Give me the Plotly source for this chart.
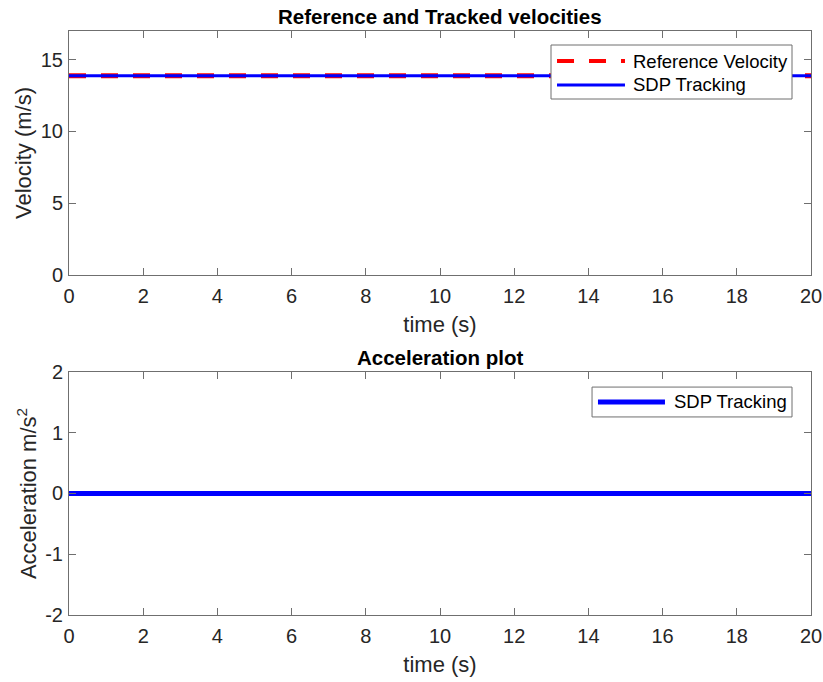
import plotly.graph_objects as go
from plotly.subplots import make_subplots

# Simulation results: constant-speed tracking over a 20 s window
time_s = [0, 20]
ref_velocity = [13.89, 13.89]
sdp_velocity = [13.89, 13.89]
sdp_accel = [0.0, 0.0]

x_ticks = [0, 2, 4, 6, 8, 10, 12, 14, 16, 18, 20]
vel_ticks = [0, 5, 10, 15]
acc_ticks = [-2, -1, 0, 1, 2]
acc_tick_labels = ["-2", "-1", "0", "1", "2"]

FONT = "Liberation Sans, Arial, Helvetica, sans-serif"
AXIS_GRAY = "#6f6f6f"
TEXT = "#262626"

fig = make_subplots(rows=2, cols=1, vertical_spacing=0.0)

fig.add_trace(go.Scatter(x=time_s, y=ref_velocity, mode="lines", name="Reference Velocity",
                         line=dict(color="#ff0000", width=5, dash="17px,15px"),
                         showlegend=False), row=1, col=1)
fig.add_trace(go.Scatter(x=time_s, y=sdp_velocity, mode="lines", name="SDP Tracking",
                         line=dict(color="#0000ff", width=3), showlegend=False), row=1, col=1)
fig.add_trace(go.Scatter(x=time_s, y=sdp_accel, mode="lines", name="SDP Tracking",
                         line=dict(color="#0000ff", width=5), showlegend=False), row=2, col=1)

axis_common = dict(showgrid=False, zeroline=False, showline=True, linecolor=AXIS_GRAY,
                   linewidth=1, mirror="ticks", ticks="inside", ticklen=7, tickcolor=AXIS_GRAY,
                   automargin=False,
                   tickfont=dict(family=FONT, size=20, color=TEXT))

fig.update_xaxes(**axis_common, range=[0, 20], tickvals=x_ticks, ticklabelstandoff=3,
                 title=dict(text="time (s)", font=dict(family=FONT, size=22, color=TEXT), standoff=10))
fig.update_yaxes(**axis_common, ticklabelstandoff=1)
fig.update_yaxes(range=[0, 17], tickvals=vel_ticks, domain=[0.5822, 1.0],
                 title=dict(text="Velocity (m/s)", font=dict(family=FONT, size=22, color=TEXT), standoff=3),
                 row=1, col=1)
fig.update_yaxes(range=[-2, 2], tickvals=acc_ticks, ticktext=acc_tick_labels, domain=[0.0, 0.4161],
                 title=dict(text="Acceleration m/s<sup>2</sup>", font=dict(family=FONT, size=22, color=TEXT), standoff=2),
                 row=2, col=1)

# Subplot titles
fig.add_annotation(text="<b>Reference and Tracked velocities</b>", xref="x domain", yref="y domain",
                   x=0.5, y=1.0, yshift=1, yanchor="bottom", showarrow=False,
                   font=dict(family=FONT, size=20.5, color="black"))
fig.add_annotation(text="<b>Acceleration plot</b>", xref="x2 domain", yref="y2 domain",
                   x=0.5, y=1.0, yshift=1, yanchor="bottom", showarrow=False,
                   font=dict(family=FONT, size=20.5, color="black"))

# Legend boxes drawn in axis-domain coordinates
legend_font = dict(family=FONT, size=18.5, color="black")
# top legend
fig.add_shape(type="rect", xref="x domain", yref="y domain", x0=0.6496, x1=0.9744, y0=0.7213, y1=0.9426,
              line=dict(color=AXIS_GRAY, width=1), fillcolor="white", layer="above")
fig.add_shape(type="line", xref="x domain", yref="y domain", x0=0.6577, x1=0.7493, y0=0.877, y1=0.877,
              line=dict(color="#ff0000", width=4, dash="17px,15px"), layer="above")
fig.add_shape(type="line", xref="x domain", yref="y domain", x0=0.6577, x1=0.7493, y0=0.779, y1=0.779,
              line=dict(color="#0000ff", width=3), layer="above")
fig.add_annotation(text="Reference Velocity", xref="x domain", yref="y domain", x=0.7574, y=0.877,
                   xanchor="left", yanchor="middle", showarrow=False, font=legend_font)
fig.add_annotation(text="SDP Tracking", xref="x domain", yref="y domain", x=0.7574, y=0.779,
                   xanchor="left", yanchor="middle", showarrow=False, font=legend_font)
# bottom legend
fig.add_shape(type="rect", xref="x2 domain", yref="y2 domain", x0=0.7049, x1=0.9744, y0=0.815, y1=0.938,
              line=dict(color=AXIS_GRAY, width=1), fillcolor="white", layer="above")
fig.add_shape(type="line", xref="x2 domain", yref="y2 domain", x0=0.7129, x1=0.8032, y0=0.877, y1=0.877,
              line=dict(color="#0000ff", width=5), layer="above")
fig.add_annotation(text="SDP Tracking", xref="x2 domain", yref="y2 domain", x=0.8126, y=0.877,
                   xanchor="left", yanchor="middle", showarrow=False, font=legend_font)

fig.update_layout(width=823, height=682, margin=dict(l=69, r=12, t=31, b=67),
                  plot_bgcolor="white", paper_bgcolor="white", showlegend=False,
                  font=dict(family=FONT, color=TEXT))

fig.write_html("out.html")
